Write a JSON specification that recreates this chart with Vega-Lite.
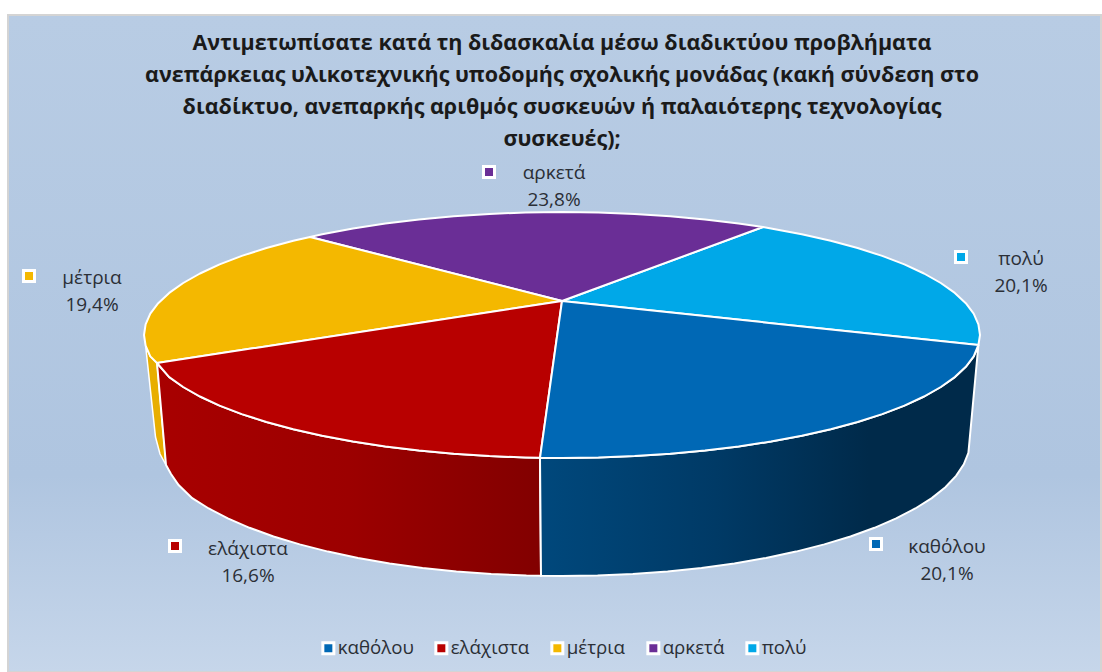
{
"$schema":"https://vega.github.io/schema/vega-lite/v6.json",
"width":1102,"height":672,"padding":0,"autosize":{"type":"none"},"background":"white",
"title":{"text":["Αντιμετωπίσατε κατά τη διδασκαλία μέσω διαδικτύου προβλήματα","ανεπάρκειας υλικοτεχνικής υποδομής σχολικής μονάδας (κακή σύνδεση στο","διαδίκτυο, ανεπαρκής αριθμός συσκευών ή παλαιότερης τεχνολογίας","συσκευές);"],"anchor":"middle","frame":"group","dx":11,"offset":-150,"font":"Open Sans","fontWeight":"bold","fontSize":21.5,"lineHeight":32,"color":"#1a1a1a"},
"config":{"view":{"stroke":null}},
"datasets":{
"frame":[{"x":8,"x2":1101,"y":15,"y2":672}],
"wallRight":[{"i":0,"x":978.4,"y":345},{"i":1,"x":973.7,"y":356.4},{"i":2,"x":965.8,"y":366.8},{"i":3,"x":954.8,"y":377.1},{"i":4,"x":940.8,"y":387},{"i":5,"x":924,"y":396.5},{"i":6,"x":904.4,"y":405.6},{"i":7,"x":882.2,"y":414.1},{"i":8,"x":857.6,"y":422},{"i":9,"x":830.7,"y":429.2},{"i":10,"x":801.8,"y":435.8},{"i":11,"x":771,"y":441.5},{"i":12,"x":738.6,"y":446.5},{"i":13,"x":705,"y":450.6},{"i":14,"x":670.2,"y":453.8},{"i":15,"x":634.6,"y":456.1},{"i":16,"x":598.4,"y":457.5},{"i":17,"x":562,"y":458},{"i":18,"x":540,"y":457.8},{"i":19,"x":541,"y":575.8},{"i":20,"x":562,"y":576},{"i":21,"x":597.6,"y":575.5},{"i":22,"x":632.8,"y":573.9},{"i":23,"x":667.6,"y":571.4},{"i":24,"x":701.5,"y":567.9},{"i":25,"x":734.4,"y":563.4},{"i":26,"x":766,"y":557.9},{"i":27,"x":796,"y":551.6},{"i":28,"x":824.3,"y":544.4},{"i":29,"x":850.5,"y":536.5},{"i":30,"x":874.5,"y":527.8},{"i":31,"x":896.2,"y":518.4},{"i":32,"x":915.3,"y":508.5},{"i":33,"x":931.8,"y":498.1},{"i":34,"x":945.4,"y":487.2},{"i":35,"x":956.1,"y":475.9},{"i":36,"x":963.8,"y":464.4},{"i":37,"x":968.4,"y":452.8},{"i":38,"x":969.5,"y":441},{"i":39,"x":978.4,"y":345}],
"wallLeft":[{"i":0,"x":540,"y":457.8},{"i":1,"x":525.6,"y":457.5},{"i":2,"x":489.4,"y":456.1},{"i":3,"x":453.8,"y":453.8},{"i":4,"x":419,"y":450.6},{"i":5,"x":385.4,"y":446.5},{"i":6,"x":353,"y":441.5},{"i":7,"x":322.2,"y":435.8},{"i":8,"x":293.3,"y":429.2},{"i":9,"x":266.4,"y":422},{"i":10,"x":241.8,"y":414.1},{"i":11,"x":219.6,"y":405.6},{"i":12,"x":200,"y":396.5},{"i":13,"x":183.2,"y":387},{"i":14,"x":169.2,"y":377.1},{"i":15,"x":157,"y":363},{"i":16,"x":166,"y":465},{"i":17,"x":171,"y":474},{"i":18,"x":178.6,"y":485},{"i":19,"x":192.2,"y":498.1},{"i":20,"x":208.7,"y":508.5},{"i":21,"x":227.8,"y":518.4},{"i":22,"x":249.5,"y":527.8},{"i":23,"x":273.5,"y":536.5},{"i":24,"x":299.7,"y":544.4},{"i":25,"x":328,"y":551.6},{"i":26,"x":358,"y":557.9},{"i":27,"x":389.6,"y":563.4},{"i":28,"x":422.5,"y":567.9},{"i":29,"x":456.4,"y":571.4},{"i":30,"x":491.2,"y":573.9},{"i":31,"x":526.4,"y":575.5},{"i":32,"x":541,"y":575.8},{"i":33,"x":540,"y":457.8}],
"wallYellow":[{"i":0,"x":145.6,"y":345.7},{"i":1,"x":150.3,"y":356.4},{"i":2,"x":157,"y":363},{"i":3,"x":166,"y":465},{"i":4,"x":160,"y":454},{"i":5,"x":155.5,"y":437},{"i":6,"x":145.6,"y":345.7}],
"tops":[
{"c":"πολύ","i":0,"x":562,"y":301},{"c":"πολύ","i":1,"x":763,"y":227},{"c":"πολύ","i":2,"x":771,"y":228.5},{"c":"πολύ","i":3,"x":801.8,"y":234.2},{"c":"πολύ","i":4,"x":830.7,"y":240.8},{"c":"πολύ","i":5,"x":857.6,"y":248},{"c":"πολύ","i":6,"x":882.2,"y":255.9},{"c":"πολύ","i":7,"x":904.4,"y":264.4},{"c":"πολύ","i":8,"x":924,"y":273.5},{"c":"πολύ","i":9,"x":940.8,"y":283},{"c":"πολύ","i":10,"x":954.8,"y":292.9},{"c":"πολύ","i":11,"x":965.8,"y":303.2},{"c":"πολύ","i":12,"x":973.7,"y":313.6},{"c":"πολύ","i":13,"x":978.4,"y":324.3},{"c":"πολύ","i":14,"x":980,"y":335},{"c":"πολύ","i":15,"x":978.4,"y":345},{"c":"πολύ","i":16,"x":562,"y":301},
{"c":"αρκετά","i":0,"x":562,"y":301},{"c":"αρκετά","i":1,"x":310,"y":237},{"c":"αρκετά","i":2,"x":322.2,"y":234.2},{"c":"αρκετά","i":3,"x":353,"y":228.5},{"c":"αρκετά","i":4,"x":385.4,"y":223.5},{"c":"αρκετά","i":5,"x":419,"y":219.4},{"c":"αρκετά","i":6,"x":453.8,"y":216.2},{"c":"αρκετά","i":7,"x":489.4,"y":213.9},{"c":"αρκετά","i":8,"x":525.6,"y":212.5},{"c":"αρκετά","i":9,"x":562,"y":212},{"c":"αρκετά","i":10,"x":598.4,"y":212.5},{"c":"αρκετά","i":11,"x":634.6,"y":213.9},{"c":"αρκετά","i":12,"x":670.2,"y":216.2},{"c":"αρκετά","i":13,"x":705,"y":219.4},{"c":"αρκετά","i":14,"x":738.6,"y":223.5},{"c":"αρκετά","i":15,"x":763,"y":227},{"c":"αρκετά","i":16,"x":562,"y":301},
{"c":"μέτρια","i":0,"x":562,"y":301},{"c":"μέτρια","i":1,"x":157,"y":363},{"c":"μέτρια","i":2,"x":150.3,"y":356.4},{"c":"μέτρια","i":3,"x":145.6,"y":345.7},{"c":"μέτρια","i":4,"x":144,"y":335},{"c":"μέτρια","i":5,"x":145.6,"y":324.3},{"c":"μέτρια","i":6,"x":150.3,"y":313.6},{"c":"μέτρια","i":7,"x":158.2,"y":303.2},{"c":"μέτρια","i":8,"x":169.2,"y":292.9},{"c":"μέτρια","i":9,"x":183.2,"y":283},{"c":"μέτρια","i":10,"x":200,"y":273.5},{"c":"μέτρια","i":11,"x":219.6,"y":264.4},{"c":"μέτρια","i":12,"x":241.8,"y":255.9},{"c":"μέτρια","i":13,"x":266.4,"y":248},{"c":"μέτρια","i":14,"x":293.3,"y":240.8},{"c":"μέτρια","i":15,"x":310,"y":237},{"c":"μέτρια","i":16,"x":562,"y":301},
{"c":"ελάχιστα","i":0,"x":562,"y":301},{"c":"ελάχιστα","i":1,"x":540,"y":457.8},{"c":"ελάχιστα","i":2,"x":525.6,"y":457.5},{"c":"ελάχιστα","i":3,"x":489.4,"y":456.1},{"c":"ελάχιστα","i":4,"x":453.8,"y":453.8},{"c":"ελάχιστα","i":5,"x":419,"y":450.6},{"c":"ελάχιστα","i":6,"x":385.4,"y":446.5},{"c":"ελάχιστα","i":7,"x":353,"y":441.5},{"c":"ελάχιστα","i":8,"x":322.2,"y":435.8},{"c":"ελάχιστα","i":9,"x":293.3,"y":429.2},{"c":"ελάχιστα","i":10,"x":266.4,"y":422},{"c":"ελάχιστα","i":11,"x":241.8,"y":414.1},{"c":"ελάχιστα","i":12,"x":219.6,"y":405.6},{"c":"ελάχιστα","i":13,"x":200,"y":396.5},{"c":"ελάχιστα","i":14,"x":183.2,"y":387},{"c":"ελάχιστα","i":15,"x":169.2,"y":377.1},{"c":"ελάχιστα","i":16,"x":157,"y":363},{"c":"ελάχιστα","i":17,"x":562,"y":301},
{"c":"καθόλου","i":0,"x":562,"y":301},{"c":"καθόλου","i":1,"x":978.4,"y":345},{"c":"καθόλου","i":2,"x":973.7,"y":356.4},{"c":"καθόλου","i":3,"x":965.8,"y":366.8},{"c":"καθόλου","i":4,"x":954.8,"y":377.1},{"c":"καθόλου","i":5,"x":940.8,"y":387},{"c":"καθόλου","i":6,"x":924,"y":396.5},{"c":"καθόλου","i":7,"x":904.4,"y":405.6},{"c":"καθόλου","i":8,"x":882.2,"y":414.1},{"c":"καθόλου","i":9,"x":857.6,"y":422},{"c":"καθόλου","i":10,"x":830.7,"y":429.2},{"c":"καθόλου","i":11,"x":801.8,"y":435.8},{"c":"καθόλου","i":12,"x":771,"y":441.5},{"c":"καθόλου","i":13,"x":738.6,"y":446.5},{"c":"καθόλου","i":14,"x":705,"y":450.6},{"c":"καθόλου","i":15,"x":670.2,"y":453.8},{"c":"καθόλου","i":16,"x":634.6,"y":456.1},{"c":"καθόλου","i":17,"x":598.4,"y":457.5},{"c":"καθόλου","i":18,"x":562,"y":458},{"c":"καθόλου","i":19,"x":540,"y":457.8},{"c":"καθόλου","i":20,"x":562,"y":301}
],
"labels":[
{"c":"καθόλου","label":"καθόλου\n20,1%","x":947,"y":547,"kx":876,"ky":544},
{"c":"ελάχιστα","label":"ελάχιστα\n16,6%","x":248,"y":549,"kx":175,"ky":546},
{"c":"μέτρια","label":"μέτρια\n19,4%","x":92,"y":278,"kx":29,"ky":276},
{"c":"αρκετά","label":"αρκετά\n23,8%","x":554,"y":173,"kx":489,"ky":172},
{"c":"πολύ","label":"πολύ\n20,1%","x":1021,"y":259,"kx":961,"ky":257}
]
},
"layer":[
{"data":{"name":"frame"},"mark":{"type":"rect","stroke":"#d4d4d4","strokeWidth":2,"fill":{"gradient":"linear","x1":0,"y1":0,"x2":0,"y2":1,"stops":[{"offset":0,"color":"#b8cce4"},{"offset":0.7,"color":"#afc5e0"},{"offset":1,"color":"#c6d6ea"}]}},
 "encoding":{"x":{"field":"x","type":"quantitative","scale":{"domain":[0,1102],"nice":false,"zero":false},"axis":null},"x2":{"field":"x2"},"y":{"field":"y","type":"quantitative","scale":{"domain":[672,0],"nice":false,"zero":false},"axis":null},"y2":{"field":"y2"}}},
{"data":{"name":"wallYellow"},"mark":{"type":"line","fill":"#e8ae00","stroke":"white","strokeWidth":1.5},
 "encoding":{"x":{"field":"x","type":"quantitative"},"y":{"field":"y","type":"quantitative"},"order":{"field":"i"}}},
{"data":{"name":"wallLeft"},"mark":{"type":"line","stroke":"white","strokeWidth":2,"fill":{"gradient":"linear","x1":0,"y1":0,"x2":1,"y2":0,"stops":[{"offset":0,"color":"#a80000"},{"offset":0.5,"color":"#9c0000"},{"offset":1,"color":"#820000"}]}},
 "encoding":{"x":{"field":"x","type":"quantitative"},"y":{"field":"y","type":"quantitative"},"order":{"field":"i"}}},
{"data":{"name":"wallRight"},"mark":{"type":"line","stroke":"white","strokeWidth":2,"fill":{"gradient":"linear","x1":0,"y1":0,"x2":1,"y2":0,"stops":[{"offset":0,"color":"#00487c"},{"offset":0.4,"color":"#003a66"},{"offset":0.75,"color":"#002a4a"},{"offset":1,"color":"#002a4a"}]}},
 "encoding":{"x":{"field":"x","type":"quantitative"},"y":{"field":"y","type":"quantitative"},"order":{"field":"i"}}},
{"data":{"name":"tops"},"mark":{"type":"line","stroke":"white","strokeWidth":2,"strokeJoin":"round"},
 "encoding":{"x":{"field":"x","type":"quantitative"},"y":{"field":"y","type":"quantitative"},"order":{"field":"i"},"detail":{"field":"c"},
  "fill":{"field":"c","type":"nominal","scale":{"domain":["καθόλου","ελάχιστα","μέτρια","αρκετά","πολύ"],"range":["#0068b5","#b80000","#f4b800","#6a2e96","#00a8e8"]},
   "legend":{"orient":"none","legendX":319,"legendY":639,"direction":"horizontal","columns":5,"gridAlign":"none","title":null,"symbolType":"square","symbolSize":121,"symbolStrokeColor":"white","symbolStrokeWidth":3,"labelFont":"Open Sans","labelFontSize":18.7,"labelColor":"#2b2f36","labelOffset":0,"columnPadding":15}}}},
{"data":{"name":"labels"},"mark":{"type":"point","shape":"square","filled":true,"size":121,"stroke":"white","strokeWidth":3,"opacity":1},
 "encoding":{"x":{"field":"kx","type":"quantitative"},"y":{"field":"ky","type":"quantitative"},"fill":{"field":"c","type":"nominal","legend":null}}},
{"data":{"name":"labels"},"mark":{"type":"text","font":"Open Sans","fontSize":19,"color":"#2b2f36","lineBreak":"\n","lineHeight":27,"align":"center","baseline":"middle"},
 "encoding":{"x":{"field":"x","type":"quantitative"},"y":{"field":"y","type":"quantitative"},"text":{"field":"label"}}}
]
}
